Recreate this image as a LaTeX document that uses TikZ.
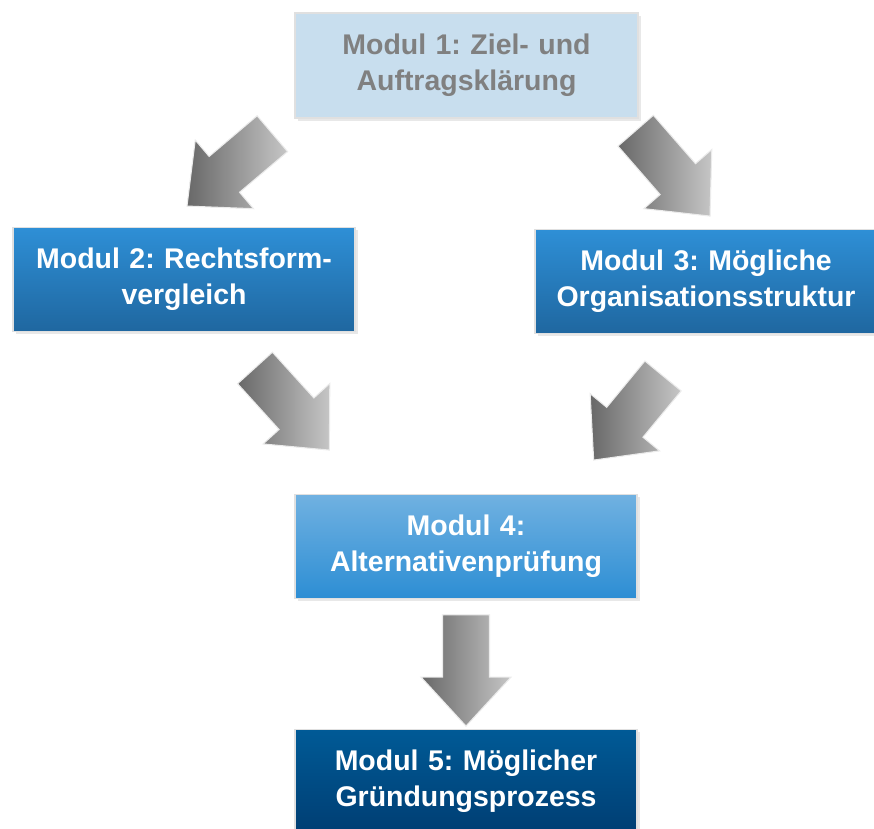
\documentclass[tikz,border=0pt]{standalone}
\usepackage{fontspec}
\setmainfont{Liberation Sans}
\usetikzlibrary{calc,shadows}

\definecolor{paleblue}{RGB}{200,222,238}
\definecolor{modulgray}{RGB}{128,128,128}
\definecolor{midtop}{RGB}{46,143,214}
\definecolor{midbottom}{RGB}{31,103,160}
\definecolor{lighttop}{RGB}{112,177,225}
\definecolor{lightbottom}{RGB}{45,142,212}
\definecolor{darktop}{RGB}{0,90,150}
\definecolor{darkbottom}{RGB}{0,62,115}
\definecolor{arrowdark}{RGB}{104,104,104}
\definecolor{arrowlight}{RGB}{198,198,198}

\frenchspacing

\begin{document}
\begin{tikzpicture}[x=0.02cm, y=-0.02cm,
  modul/.style={rectangle, minimum width=6.84cm, minimum height=2.07cm,
    align=center, text width=6.6cm, text=white,
    font=\fontsize{16.2}{20.5}\selectfont\bfseries,
    draw=black!12, line width=0.8pt,
    drop shadow={opacity=0.18, shadow xshift=1.5pt, shadow yshift=-1.5pt}},
  bigarrow/.style={left color=arrowdark, right color=arrowlight,
    draw=black!8, line width=0.6pt}]

\useasboundingbox (0,0) rectangle (874,828);

% Controls
\def\shaftw{0.47cm}
\def\headw{0.9cm}
\def\headl{0.98cm}

% fat arrow from tail centre #1 to tip #2
\newcommand{\drawFatArrow}[2]{%
  \coordinate (neck) at ($(#2)!\headl!(#1)$);
  \path[bigarrow] ($(#1)!\shaftw!90:(#2)$)
    -- ($(neck)!\shaftw!90:(#2)$) -- ($(neck)!\headw!90:(#2)$)
    -- (#2)
    -- ($(neck)!\headw!-90:(#2)$) -- ($(neck)!\shaftw!-90:(#2)$)
    -- ($(#1)!\shaftw!-90:(#2)$) -- cycle;
}

% Modules
\node[modul, fill=paleblue, text=modulgray, minimum width=6.86cm,
  minimum height=2.1cm] (m1) at (466.5,65.5) {Modul 1: Ziel- und\\Auftragsklärung};
\node[modul, top color=midtop, bottom color=midbottom] (m2) at (184,279.5)
  {Modul 2: Rechtsform-\\vergleich};
\node[modul, top color=midtop, bottom color=midbottom] (m3) at (706,281.5)
  {Modul 3: Mögliche\\Organisationsstruktur};
\node[modul, top color=lighttop, bottom color=lightbottom] (m4) at (466,546.5)
  {Modul 4:\\Alternativenprüfung};
\node[modul, top color=darktop, bottom color=darkbottom] (m5) at (466,781.5)
  {Modul 5: Möglicher\\Gründungsprozess};

% Arrow ends
\coordinate (a12s) at ($(m1.south west)+(-22,15)$);
\coordinate (a12e) at ($(m2.north)+(3,-21)$);
\coordinate (a13s) at ($(m1.south east)+(-3,12)$);
\coordinate (a13e) at ($(m3.north)+(4,-13)$);
\coordinate (a24s) at ($(m2.south)+(71,36)$);
\coordinate (a24e) at ($(m4.north west)+(35,-44)$);
\coordinate (a34s) at ($(m3.south)+(-43,42)$);
\coordinate (a34e) at ($(m4.north east)+(-44,-34)$);
\coordinate (a45s) at ($(m4.south)+(0,16)$);
\coordinate (a45e) at ($(m5.north)+(0,-3)$);

% Arrows
\drawFatArrow{a12s}{a12e}
\drawFatArrow{a13s}{a13e}
\drawFatArrow{a24s}{a24e}
\drawFatArrow{a34s}{a34e}
\drawFatArrow{a45s}{a45e}

\end{tikzpicture}
\end{document}
